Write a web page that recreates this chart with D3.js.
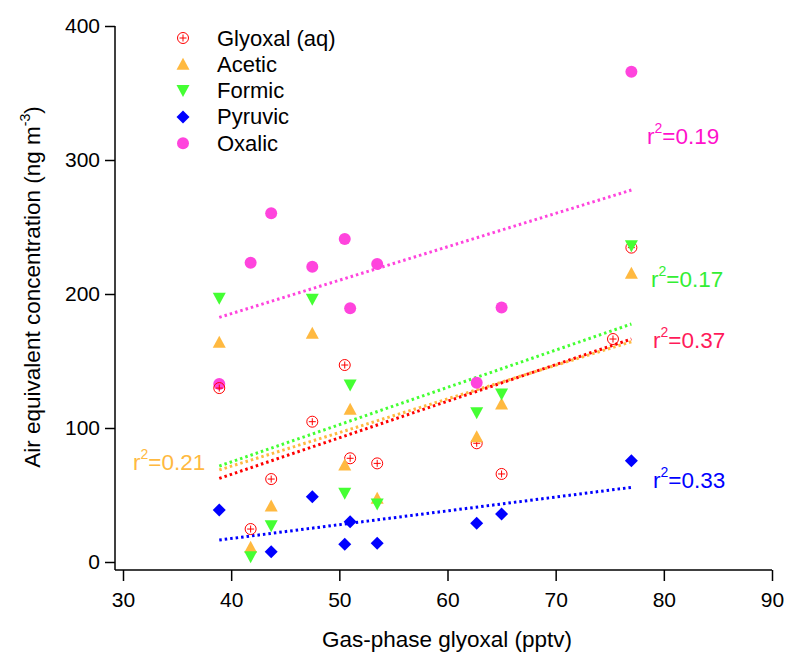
<!DOCTYPE html>
<html>
<head>
<meta charset="utf-8">
<script src="https://cdn.jsdelivr.net/npm/d3@7"></script>
<style>
  body { margin: 0; background: #fff; }
  svg { font-family: Arial, "Liberation Sans", sans-serif; }
</style>
</head>
<body>
<div id="root"></div>
<script>
const width = 788;
const height = 658;

// gas-phase glyoxal (pptv) for each sample
const glyoxalX = [38.9, 41.8, 43.7, 47.5, 50.5, 51.0, 53.5, 62.7, 65.0, 75.3, 77.0];
const glyoxalAq = [129.8, 24.6, 61.9, 104.7, 147, 77.4, 73.6, 88.6, 65.7, 166.4, 234.6];

const acidX = [38.9, 41.8, 43.7, 47.5, 50.5, 51.0, 53.5, 62.7, 65.0, 77.0];
const acetic = [164, 11, 41.8, 170.7, 72.4, 114, 47.5, 93.5, 118, 215.4];
const formic = [196.8, 4, 27, 196, 51.3, 132, 43.3, 111.4, 125.4, 236];
const oxalic = [132.8, 223.4, 260.2, 220.4, 241, 189.3, 222.4, 133.8, 190, 365.9];

const pyruvicX = [38.9, 43.7, 47.5, 50.5, 51.0, 53.5, 62.7, 65.0, 77.0];
const pyruvic = [38.8, 7.7, 48.7, 13.2, 30.1, 14, 28.9, 35.8, 75.6];

// fit lines, read as end values at x = 38.9 and x = 77
const fitX = [38.9, 77.0];
const fitGlyoxal = [62.4, 166.4];
const fitAcetic = [68.7, 164.4];
const fitFormic = [71.6, 177.6];
const fitPyruvic = [16.4, 55.7];
const fitOxalic = [182.6, 277.6];

const r2Labels = ['0.37', '0.21', '0.17', '0.33', '0.19'];

const xTicks = [30, 40, 50, 60, 70, 80, 90];
const yTicks = [0, 100, 200, 300, 400];

const series = [
    {name: 'Glyoxal (aq)', xs: glyoxalX, ys: glyoxalAq, fit: fitGlyoxal, color: '#ff0000', textColor: '#ff1a5a', shape: 'plus', r2: r2Labels[0], lab: [653, 348]},
    {name: 'Acetic', xs: acidX, ys: acetic, fit: fitAcetic, color: '#ffb940', textColor: '#ffb940', shape: 'up', r2: r2Labels[1], lab: [133, 470]},
    {name: 'Formic', xs: acidX, ys: formic, fit: fitFormic, color: '#44ff33', textColor: '#33ee33', shape: 'down', r2: r2Labels[2], lab: [651, 287]},
    {name: 'Pyruvic', xs: pyruvicX, ys: pyruvic, fit: fitPyruvic, color: '#0000ff', textColor: '#0000ff', shape: 'diamond', r2: r2Labels[3], lab: [653, 488]},
    {name: 'Oxalic', xs: acidX, ys: oxalic, fit: fitOxalic, color: '#ff44dd', textColor: '#ff11cc', shape: 'circle', r2: r2Labels[4], lab: [647, 144]}
];

const x = d3.scaleLinear().domain([30, 90]).range([123, 772]);
const y = d3.scaleLinear().domain([0, 400]).range([562, 26]);

const svg = d3.select('#root')
    .append('svg')
    .attr('width', width)
    .attr('height', height);

// axes
const axisLeftX = 115;
const axisBottomY = 570;

svg.append('line')
    .attr('x1', axisLeftX).attr('x2', axisLeftX)
    .attr('y1', y(400)).attr('y2', axisBottomY)
    .attr('stroke', '#000').attr('stroke-width', 1.5);
svg.append('line')
    .attr('x1', axisLeftX).attr('x2', x(90))
    .attr('y1', axisBottomY).attr('y2', axisBottomY)
    .attr('stroke', '#000').attr('stroke-width', 1.5);

const yAxis = d3.axisLeft(y).tickValues(yTicks).tickSize(10).tickPadding(5);
svg.append('g')
    .attr('transform', `translate(${axisLeftX},0)`)
    .call(yAxis)
    .call(g => g.select('.domain').remove())
    .call(g => g.selectAll('line').attr('stroke-width', 1.5))
    .call(g => g.selectAll('text').attr('font-size', 21).attr('font-family', 'Arial, Liberation Sans, sans-serif').attr('fill', '#000'));

const xAxis = d3.axisBottom(x).tickValues(xTicks).tickSize(11).tickPadding(11);
svg.append('g')
    .attr('transform', `translate(0,${axisBottomY})`)
    .call(xAxis)
    .call(g => g.select('.domain').remove())
    .call(g => g.selectAll('line').attr('stroke-width', 1.5))
    .call(g => g.selectAll('text').attr('font-size', 21).attr('font-family', 'Arial, Liberation Sans, sans-serif').attr('fill', '#000'));

// axis titles
svg.append('text')
    .attr('x', 447).attr('y', 647)
    .attr('text-anchor', 'middle')
    .attr('font-size', 22.5)
    .text('Gas-phase glyoxal (pptv)');

const yTitle = svg.append('text')
    .attr('transform', 'translate(40,287) rotate(-90)')
    .attr('text-anchor', 'middle')
    .attr('font-size', 22.5);
yTitle.append('tspan').text('Air equivalent concentration (ng m');
yTitle.append('tspan').attr('font-size', 14).attr('dy', -10).text('-3');
yTitle.append('tspan').attr('dy', 10).text(')');

// marker drawing
const drawMarker = (g, shape, color) => {
    if (shape === 'plus') {
        g.append('circle').attr('r', 5.5).attr('fill', 'none').attr('stroke', color).attr('stroke-width', 1);
        g.append('path').attr('d', 'M-3.5,0H3.5M0,-3.5V3.5').attr('stroke', color).attr('stroke-width', 1);
    } else if (shape === 'up') {
        g.append('path').attr('d', 'M0,-6.5L6.5,5.5L-6.5,5.5Z').attr('fill', color);
    } else if (shape === 'down') {
        g.append('path').attr('d', 'M0,6.5L6.5,-5.5L-6.5,-5.5Z').attr('fill', color);
    } else if (shape === 'diamond') {
        g.append('path').attr('d', 'M0,-6.5L6.5,0L0,6.5L-6.5,0Z').attr('fill', color);
    } else {
        g.append('circle').attr('r', 6).attr('fill', color);
    }
};

// fit lines, drawn below markers
const lineOrder = [4, 2, 1, 0, 3];
lineOrder.forEach(i => {
    const s = series[i];
    svg.append('line')
        .attr('x1', x(fitX[0])).attr('y1', y(s.fit[0]))
        .attr('x2', x(fitX[1])).attr('y2', y(s.fit[1]))
        .attr('stroke', s.color)
        .attr('stroke-width', 3)
        .attr('stroke-dasharray', '2.5,3');
});

// points: oxalic first, then others
const pointOrder = [4, 0, 1, 2, 3];
pointOrder.forEach(i => {
    const s = series[i];
    svg.append('g').selectAll('g')
        .data(s.ys.map((v, j) => [s.xs[j], v]))
        .join('g')
        .attr('transform', d => `translate(${x(d[0])},${y(d[1])})`)
        .each(function () { drawMarker(d3.select(this), s.shape, s.color); });
});

// r² labels
series.forEach(s => {
    const t = svg.append('text')
        .attr('x', s.lab[0]).attr('y', s.lab[1])
        .attr('font-size', 22.5)
        .attr('fill', s.textColor);
    t.append('tspan').text('r');
    t.append('tspan').attr('font-size', 14).attr('dy', -11).text('2');
    t.append('tspan').attr('dy', 11).text('=' + s.r2);
});

// legend
const legend = svg.append('g');
series.forEach((s, i) => {
    const row = legend.append('g').attr('transform', `translate(183,${38 + i * 26.3})`);
    drawMarker(row, s.shape, s.color);
    row.append('text')
        .attr('x', 34).attr('y', 7.5)
        .attr('font-size', 22)
        .text(s.name);
});
</script>
</body>
</html>
